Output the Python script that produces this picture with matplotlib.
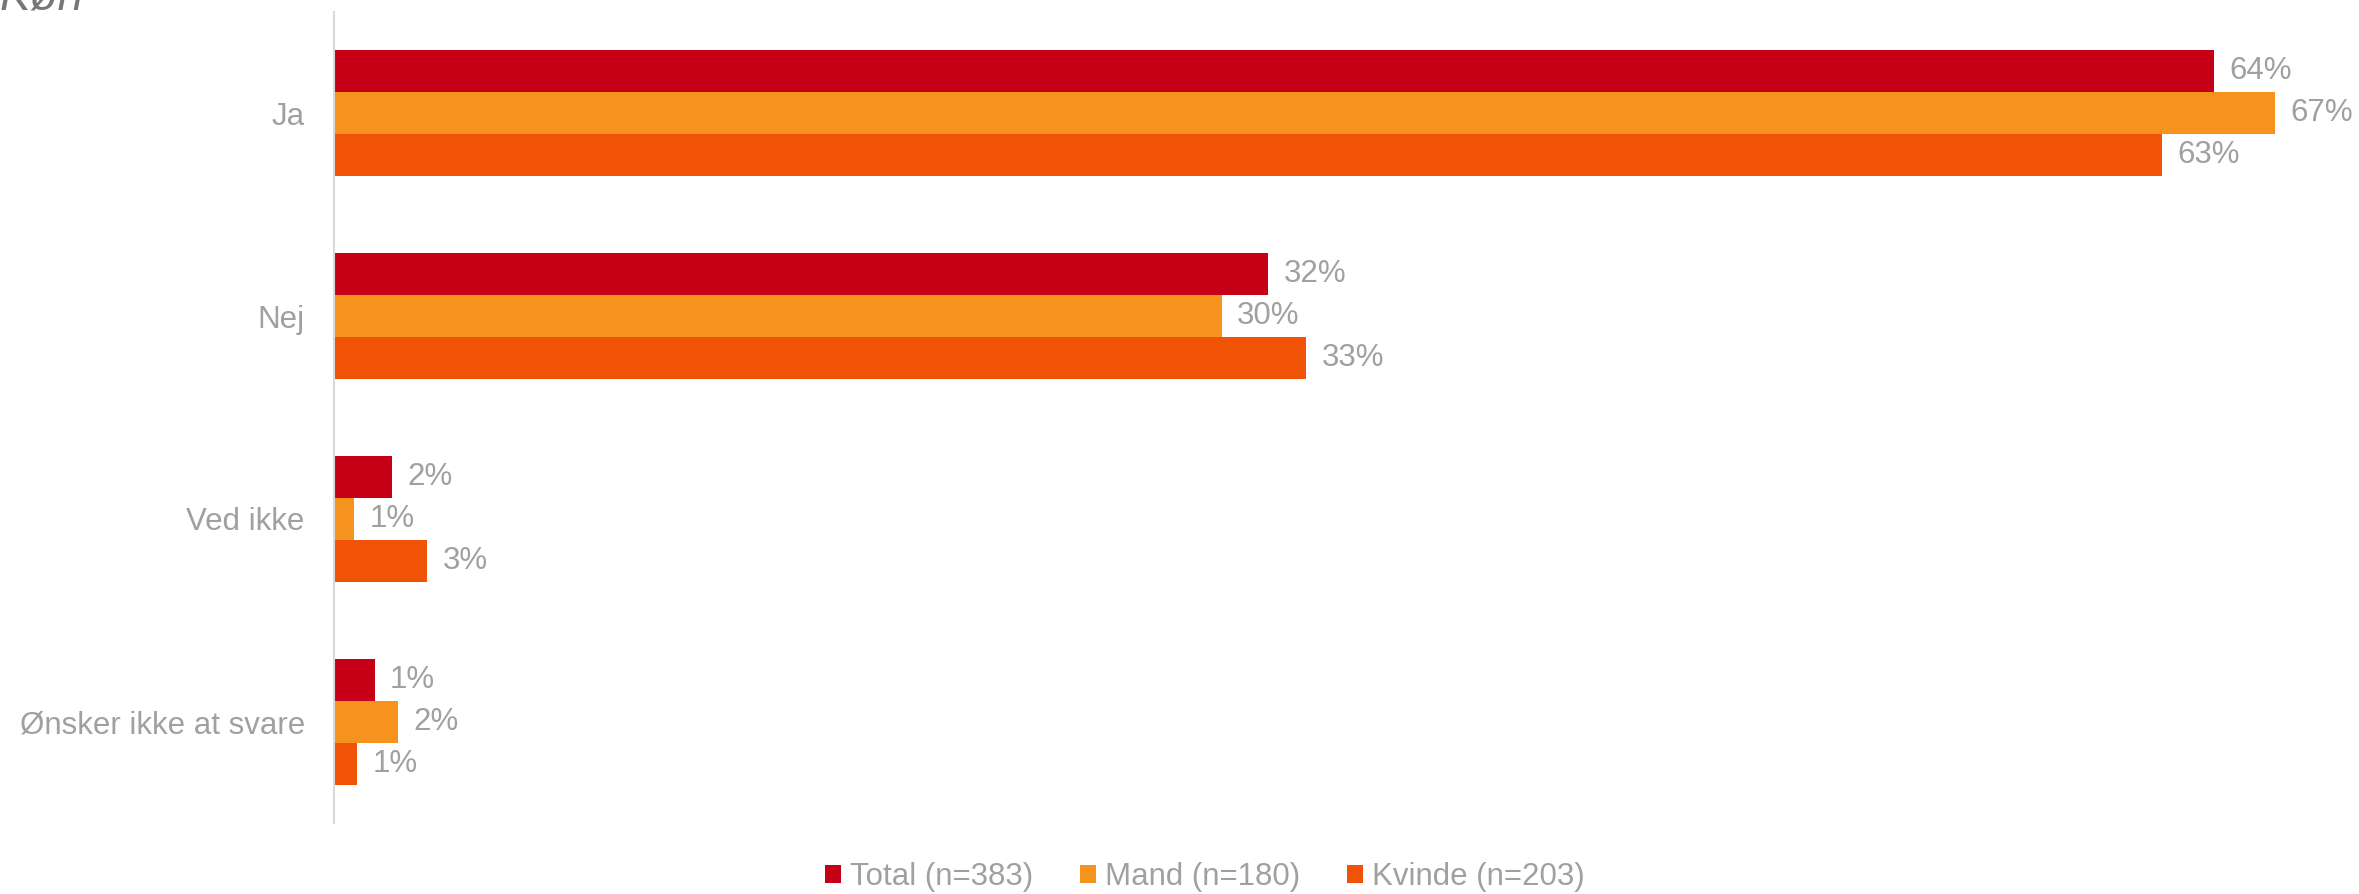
import matplotlib

matplotlib.use("Agg")
import matplotlib.pyplot as plt
import numpy as np
from matplotlib.patches import Patch

plt.rcParams["font.family"] = ["Liberation Sans", "DejaVu Sans"]

categories = ["Ja", "Nej", "Ved ikke", "Ønsker ikke at svare"]
series = ["Total (n=383)", "Mand (n=180)", "Kvinde (n=203)"]
total = [64.6, 32.1, 2.0, 1.4]
mand = [66.7, 30.5, 0.7, 2.2]
kvinde = [62.8, 33.4, 3.2, 0.8]
labels_total = ["64%", "32%", "2%", "1%"]
labels_mand = ["67%", "30%", "1%", "2%"]
labels_kvinde = ["63%", "33%", "3%", "1%"]

COLORS = ["#C50017", "#F6921E", "#F05206"]
TEXT = "#A0A0A0"

W, H = 2359, 894
fig = plt.figure(figsize=(W / 100, H / 100), dpi=100)
ax = fig.add_axes([334 / W, (H - 823) / H, (2313 - 334) / W, 811 / H])

y = np.arange(len(categories))
h = 42 / 203
values = [total, mand, kvinde]
texts = [labels_total, labels_mand, labels_kvinde]
for i, (vals, labs, col, name) in enumerate(zip(values, texts, COLORS, series)):
    pos = y + (i - 1) * h
    ax.barh(pos, vals, height=h, color=col, label=name)
    for p, v, t in zip(pos, vals, labs):
        ax.annotate(t, (v, p), xytext=(11, 0), textcoords="offset points",
                    va="center", ha="left", fontsize=22.5, color=TEXT,
                    annotation_clip=False)

ax.set_xlim(0, 68)
ax.set_ylim(len(categories) - 0.5, -0.5)
ax.set_yticks(y)
ax.set_yticklabels(categories, fontsize=22.5, color=TEXT)
ax.tick_params(axis="y", length=0, pad=21)
ax.set_xticks([])
for s in ["top", "right", "bottom"]:
    ax.spines[s].set_visible(False)
ax.spines["left"].set_color("#D9D9D9")
ax.spines["left"].set_linewidth(1.5)

# title sits mostly above the canvas, as in the original export
fig.text(0.0, 1 - 10 / H, "Køn", fontsize=33, style="italic",
         color="#777777", ha="left", va="baseline")

handles = [Patch(facecolor=c, label=n) for c, n in zip(COLORS, series)]
fig.legend(handles=handles, loc="center", bbox_to_anchor=(1205 / W, 17 / H),
           ncol=3, frameon=False, handlelength=0.5, handleheight=0.5,
           handletextpad=0.3, columnspacing=1.5,
           prop={"size": 22.5}, labelcolor=TEXT)

fig.savefig("out.png", dpi=100)
